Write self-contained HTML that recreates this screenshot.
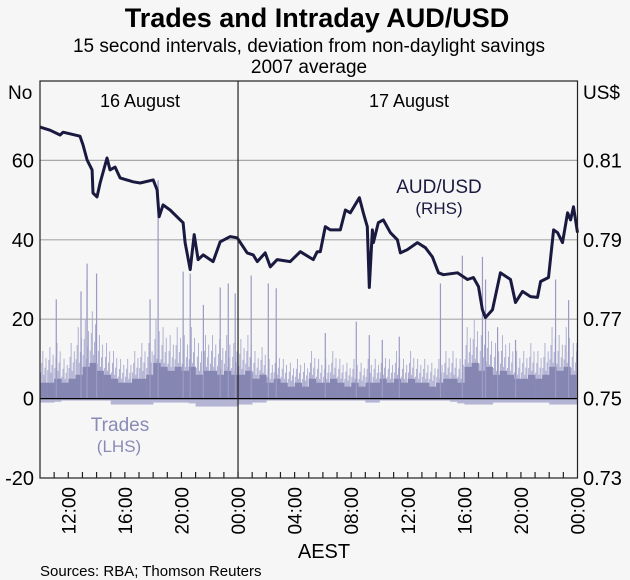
<!DOCTYPE html>
<html><head><meta charset="utf-8"><style>
body{margin:0;background:#f6f6f6;}
svg{display:block;font-family:"Liberation Sans",Arial,sans-serif;}
</style></head><body>
<svg id="c" width="630" height="580">
<rect width="630" height="580" fill="#f6f6f6"/>
<text x="317" y="27" text-anchor="middle" font-size="27" font-weight="bold" fill="#000">Trades and Intraday AUD/USD</text>
<text x="309" y="52" text-anchor="middle" font-size="19">15 second intervals, deviation from non-daylight savings</text>
<text x="309" y="73" text-anchor="middle" font-size="19">2007 average</text>
<text x="8" y="99" font-size="19">No</text>
<text x="583" y="99" font-size="19">US$</text>
<g id="grid"></g><g id="trades"></g><g id="line"></g><g id="axes"></g>
<text x="140" y="107" text-anchor="middle" font-size="18">16 August</text>
<text x="409" y="107" text-anchor="middle" font-size="18">17 August</text>
<text x="439" y="193" text-anchor="middle" font-size="19" fill="#1a1a40">AUD/USD</text>
<text x="439" y="214" text-anchor="middle" font-size="17" fill="#1a1a40">(RHS)</text>
<text x="120" y="431" text-anchor="middle" font-size="19" fill="#8a8ab8">Trades</text>
<text x="119" y="452" text-anchor="middle" font-size="17" fill="#8a8ab8">(LHS)</text>
<text x="324" y="558" text-anchor="middle" font-size="20">AEST</text>
<text x="40" y="576" font-size="15">Sources: RBA; Thomson Reuters</text>
</svg>
<script>
// hours from 10:00 on 16 August
const priceTimes=[0,0.71,1.42,1.63,2.83,3.04,3.33,3.68,3.75,4.03,4.25,4.74,4.95,5.31,5.66,6.58,7.08,8.0,8.28,8.42,8.7,9.2,9.91,10.12,10.26,10.62,10.9,11.18,11.54,12.24,12.74,13.45,13.94,14.65,15.07,15.36,15.92,16.28,16.77,17.69,18.4,19.32,19.6,19.82,20.17,20.52,21.23,21.59,21.94,22.58,22.86,23.14,23.28,23.5,23.57,23.92,24.27,24.77,25.27,25.48,25.97,26.68,27.25,27.74,28.17,28.52,29.51,30.22,30.64,31.0,31.28,31.49,31.99,32.55,33.26,33.62,34.11,34.68,35.17,35.39,35.95,36.31,36.59,36.94,37.3,37.51,37.72,38.0];
const priceValues=[0.8184,0.8176,0.8164,0.8171,0.8161,0.8139,0.8101,0.8076,0.8018,0.8008,0.8043,0.8106,0.8076,0.8083,0.8056,0.8046,0.8043,0.8051,0.8026,0.7958,0.7988,0.7975,0.795,0.7943,0.7893,0.7825,0.7913,0.785,0.7862,0.7845,0.7895,0.7908,0.7905,0.7867,0.7862,0.7845,0.7867,0.7832,0.785,0.7845,0.787,0.785,0.787,0.787,0.7933,0.7925,0.7925,0.7975,0.7968,0.8006,0.7968,0.7933,0.778,0.7925,0.7893,0.7943,0.795,0.7918,0.79,0.7867,0.7875,0.7893,0.788,0.7857,0.7817,0.7812,0.7817,0.78,0.7805,0.7782,0.7724,0.7704,0.7724,0.7817,0.78,0.7742,0.777,0.7757,0.7755,0.7795,0.7805,0.7925,0.7918,0.7893,0.7968,0.795,0.7983,0.7918];
// half-hour buckets: typical trades, bucket peaks, negative dips
const tradeBase=[4,4,5,4,5,6,8,9,7,6,5,4,4,5,5,6,9,8,7,8,7,8,6,7,7,6,7,6,6,7,5,6,4,5,4,3,4,3,5,4,4,5,4,3,4,3,4,4,5,4,5,4,5,4,4,3,4,5,5,4,8,9,7,8,6,7,6,5,5,6,5,6,8,7,8,6];
const tradePeak=[12,13,14,10,14,18,20,22,16,14,12,10,10,12,14,14,20,18,16,18,16,18,14,16,16,15,16,14,15,16,12,13,10,12,10,9,10,9,12,10,10,12,10,9,10,9,10,10,12,10,12,10,12,10,10,9,10,12,12,10,18,20,16,17,14,16,14,12,12,14,12,14,18,16,18,14];
const tradeNeg=[1,1,0.8,0.5,0.5,0.5,0.5,0.5,0.5,0.5,1.5,1.5,1.5,1.5,1.5,1.5,1,1,1,1,1,1.2,2,2,2,2,2,2,1.5,1.5,1,1,0.5,0.5,0.5,0.5,0.5,0.5,0.5,0.5,0.5,0.5,0.5,0.5,0.5,0.5,1,1,0.5,0.5,0.5,0.5,0.5,0.5,0.5,0.5,0.5,0.5,0.8,1.2,1.5,1.5,1.5,1.5,1,1,1,1,1,1,1,1,1.5,1.5,1.5,1.5];
const spikeTimes=[1.15,2.9,3.32,3.33,4.0,7.78,8.35,10.12,10.62,11.55,12.74,13.31,13.8,14.93,16.14,16.7,20.17,22.36,23.28,24.2,25.4,28.31,29.86,31.28,31.5,32.35,33.62,36.45,37.37,37.97];
const spikeValues=[25,27,30,34,31.5,25,55,32,31.5,23.6,28,29,26.5,31,29,27.8,16.5,19.4,16,14.8,15.6,29,36,35.7,30,18,14.8,30,24.8,14];
const leftTicks=[-20,0,20,40,60];
const rightTicks=["0.73","0.75","0.77","0.79","0.81"];
const hourLabels=["12:00","16:00","20:00","00:00","04:00","08:00","12:00","16:00","20:00","00:00"];
const hourLabelTimes=[2,6,10,14,18,22,26,30,34,38];

const L=40,R=577.5,T=81,B=478,H0=0,H1=38;
const x=h=>L+(h-H0)/(H1-H0)*(R-L);
const yL=v=>B-(v+20)/100*(B-T);
const yR=p=>B-(p-0.73)/0.1*(B-T);
const NS="http://www.w3.org/2000/svg";
function mk(tag,parent,attrs){const e=document.createElementNS(NS,tag);for(const k in attrs)e.setAttribute(k,attrs[k]);parent.appendChild(e);return e;}
const g=document.getElementById('grid'),tr=document.getElementById('trades'),ln=document.getElementById('line'),ax=document.getElementById('axes'),svg=document.getElementById('c');

leftTicks.forEach((v,i)=>{
  if(v>-20){const gl=mk('line',g,{x1:L,x2:R,y1:yL(v),y2:yL(v),stroke:'#a8a8a8','stroke-width':1.2});
  
  }
  const t=mk('text',svg,{x:34,y:yL(v)+7,'text-anchor':'end','font-size':20});t.textContent=v;
  
  
  const t2=mk('text',svg,{x:583,y:yR(+rightTicks[i])+7,'font-size':20});t2.textContent=rightTicks[i];
  
  
});

const bw=(R-L)/tradeBase.length;
tradeBase.forEach((v,i)=>{
  const h0=i*0.5,x0=x(h0);
  const pk=tradePeak[i];
  [[0.1,0.55],[0.25,0.75],[0.4,1],[0.55,0.5],[0.7,0.65],[0.85,0.85]].forEach(([f,m])=>{
    const s=mk('line',tr,{x1:x0+f*bw,x2:x0+f*bw,y1:yL(0),y2:yL(pk*m),stroke:'#a9a9cf','stroke-width':0.9});
    
    
  });
  const r=mk('rect',tr,{x:x0,y:yL(v),width:bw+0.3,height:yL(0)-yL(v),fill:'#8686b2'});
  
  
  const n=mk('rect',tr,{x:x0,y:yL(0),width:bw+0.3,height:yL(-tradeNeg[i])-yL(0),fill:'#b4b4d4'});
  
  
});
spikeTimes.forEach((h,i)=>{
  const s=mk('line',tr,{x1:x(h),x2:x(h),y1:yL(0),y2:yL(spikeValues[i]),stroke:'#9a9ac4','stroke-width':1.2});
  
  
});
const zl=mk('line',ax,{x1:L,x2:R,y1:yL(0),y2:yL(0),stroke:'#000','stroke-width':1.3});



let d=priceTimes.map((h,i)=>(i?'L':'M')+x(h).toFixed(1)+' '+yR(priceValues[i]).toFixed(1)).join(' ');
const p=mk('path',ln,{d:d,fill:'none',stroke:'#1a1a40','stroke-width':3,'stroke-linejoin':'round'});



const fr=mk('rect',ax,{x:L,y:T,width:R-L,height:B-T,fill:'none',stroke:'#222','stroke-width':1.2});


const dv=mk('line',ax,{x1:x(14),x2:x(14),y1:T,y2:B,stroke:'#222','stroke-width':1.2});


for(let h=1;h<38;h++){
  const tk=mk('line',ax,{x1:x(h),x2:x(h),y1:B,y2:B-6,stroke:'#222','stroke-width':1.2});
  
  
}
hourLabelTimes.forEach((h,i)=>{
  const xx=x(h)+7;
  const t=mk('text',svg,{x:0,y:0,'text-anchor':'end','font-size':19,transform:`translate(${xx},487) rotate(-90)`});
  t.textContent=hourLabels[i];
  
  
});
</script>
</body></html>
